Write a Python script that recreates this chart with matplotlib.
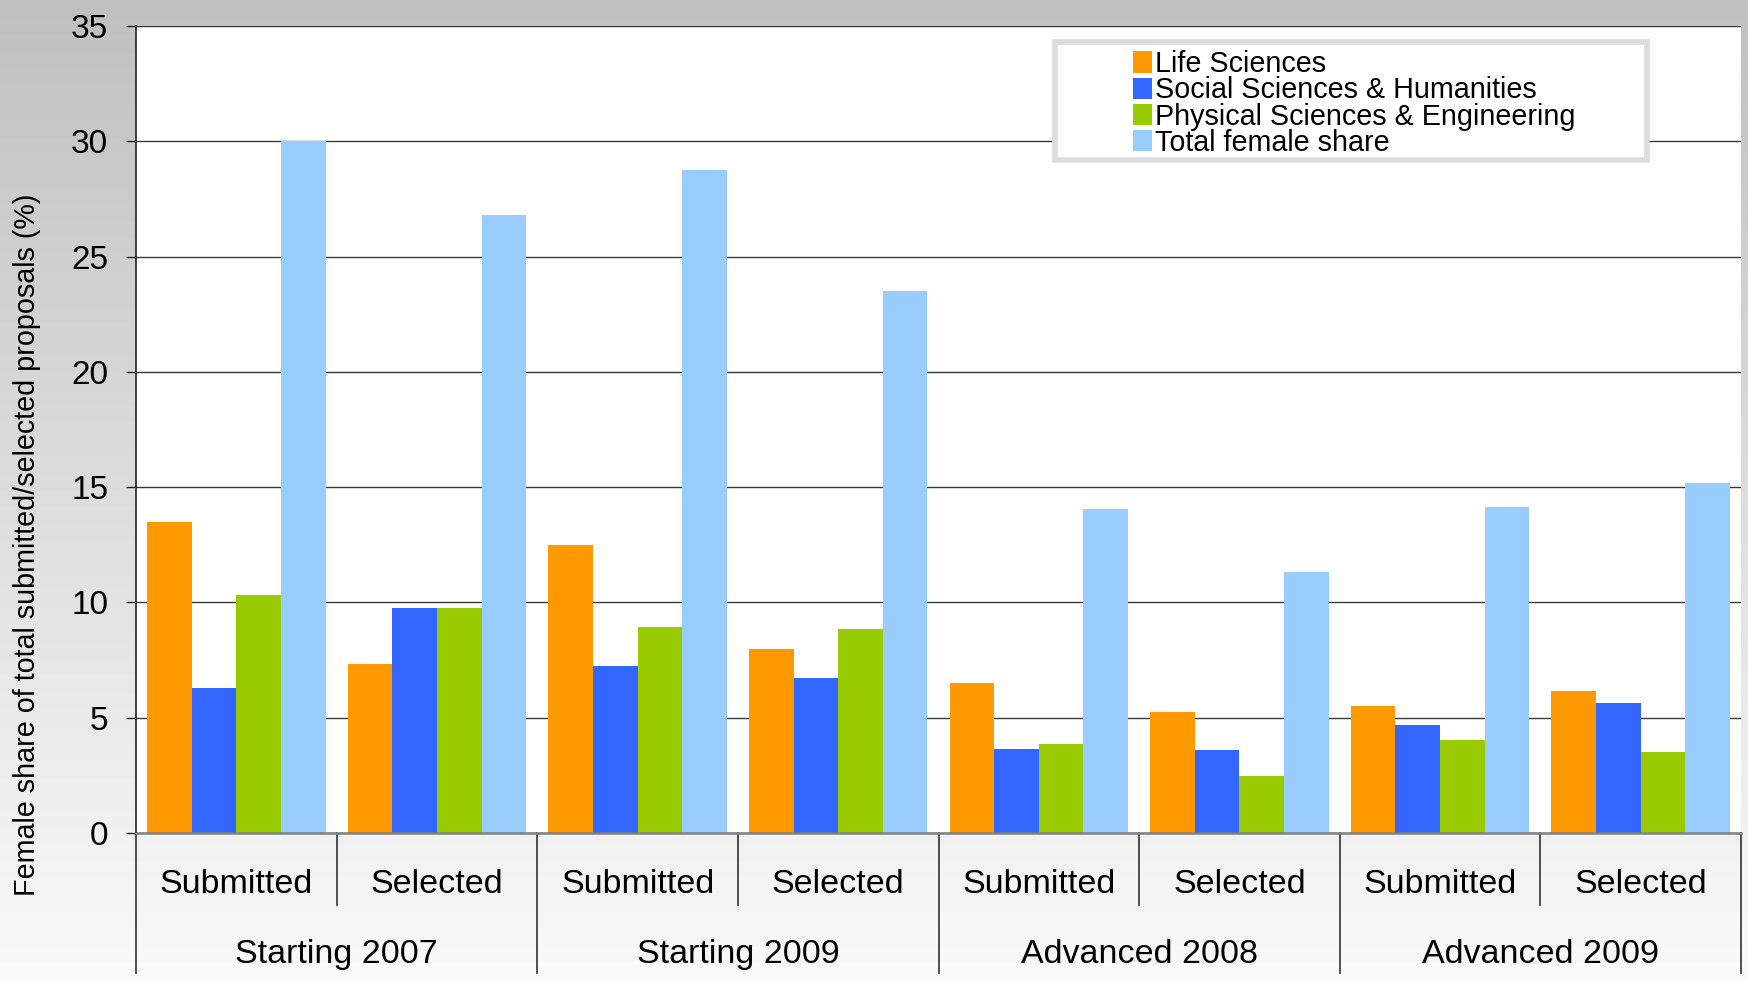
import matplotlib
matplotlib.use("Agg")

import matplotlib.pyplot as plt
import matplotlib.transforms as mtransforms
from matplotlib.patches import Rectangle, Patch
import numpy as np

plt.rcParams["font.family"] = ["Liberation Sans", "DejaVu Sans"]

# ── Data ──────────────────────────────────────────────────────────────────────
groups = ["Starting 2007", "Starting 2009", "Advanced 2008", "Advanced 2009"]
stages = ["Submitted", "Selected"]
series = ["Life Sciences", "Social Sciences & Humanities",
          "Physical Sciences & Engineering", "Total female share"]

life     = [13.5, 7.35, 12.5, 8.0, 6.5, 5.25, 5.5, 6.15]
social   = [6.3, 9.75, 7.25, 6.7, 3.65, 3.6, 4.7, 5.65]
physical = [10.3, 9.75, 8.95, 8.85, 3.85, 2.45, 4.05, 3.5]
total    = [30.0, 26.8, 28.75, 23.5, 14.05, 11.3, 14.15, 15.2]

COLORS = ["#FF9900", "#3366FF", "#99CC00", "#99CCFF"]

# ── Figure ────────────────────────────────────────────────────────────────────
fig = plt.figure(figsize=(17.49, 9.81), dpi=100)

# vertical grey gradient background
bg = fig.add_axes([0, 0, 1, 1], zorder=-10)
grad = np.linspace(192, 250, 256)[:, None] / 255.0
bg.imshow(np.dstack([grad, grad, grad]), aspect="auto", extent=[0, 1, 0, 1])
bg.axis("off")

ax = fig.add_axes([0.0778, 0.1509, 0.9176, 0.8226])
ax.set_facecolor("white")

x = np.arange(len(life))
w = 0.2222
for k, vals in enumerate([life, social, physical, total]):
    ax.bar(x + (k - 1.5) * w, vals, width=w, color=COLORS[k],
           label=series[k], zorder=3, linewidth=0)

ax.set_xlim(-0.5, len(life) - 0.5)
ax.set_ylim(0, 35)
ax.set_yticks(range(0, 36, 5))
ax.yaxis.grid(True, color="#383838", linewidth=1.0, zorder=1)
ax.set_xticks([])
ax.tick_params(axis="y", direction="out", length=7, width=1, color="#222222",
               labelsize=24, pad=13)

for s in ["top", "right"]:
    ax.spines[s].set_visible(False)
ax.spines["left"].set_color("#222222")
ax.spines["left"].set_linewidth(1.2)
ax.spines["bottom"].set_color("#808080")
ax.spines["bottom"].set_linewidth(1.8)
ax.spines["bottom"].set_zorder(4)

ax.set_ylabel("Female share of total submitted/selected proposals (%)",
              fontsize=20.7)
ax.yaxis.set_label_coords(-0.0592, 0.357)

# ── Two-level category axis ───────────────────────────────────────────────────
trans = mtransforms.blended_transform_factory(ax.transData, ax.transAxes)
for i in x:
    ax.text(i, -0.064, stages[i % 2], transform=trans, ha="center",
            va="center", fontsize=24.5, clip_on=False)
for g, name in enumerate(groups):
    ax.text(2 * g + 0.5, -0.150, name, transform=trans, ha="center",
            va="center", fontsize=24.5, clip_on=False)
for b in np.arange(-0.5, len(life), 1.0):
    depth = -0.173 if int(b + 0.5) % 2 == 0 else -0.089
    ax.plot([b, b], [0, depth], transform=trans, color="#333333",
            linewidth=1.2, clip_on=False)

# ── Legend ────────────────────────────────────────────────────────────────────
fig.patches.append(Rectangle((1055 / 1749, 1 - 160 / 981),
                             (1647 - 1055) / 1749, (160 - 42) / 981,
                             transform=fig.transFigure, facecolor="white",
                             edgecolor="#dcdcdc", linewidth=4, zorder=5))
handles = [Patch(facecolor=c, edgecolor="none") for c in COLORS]
leg = fig.legend(handles, series, loc="upper left",
                 bbox_to_anchor=(1133 / 1749, 1 - 50 / 981),
                 frameon=False, fontsize=20.7, handlelength=0.66,
                 handleheight=0.75, handletextpad=0.1, labelspacing=-0.06,
                 borderpad=0, borderaxespad=0)
leg.set_zorder(6)

plt.savefig("out.png", dpi=100)
plt.close(fig)
